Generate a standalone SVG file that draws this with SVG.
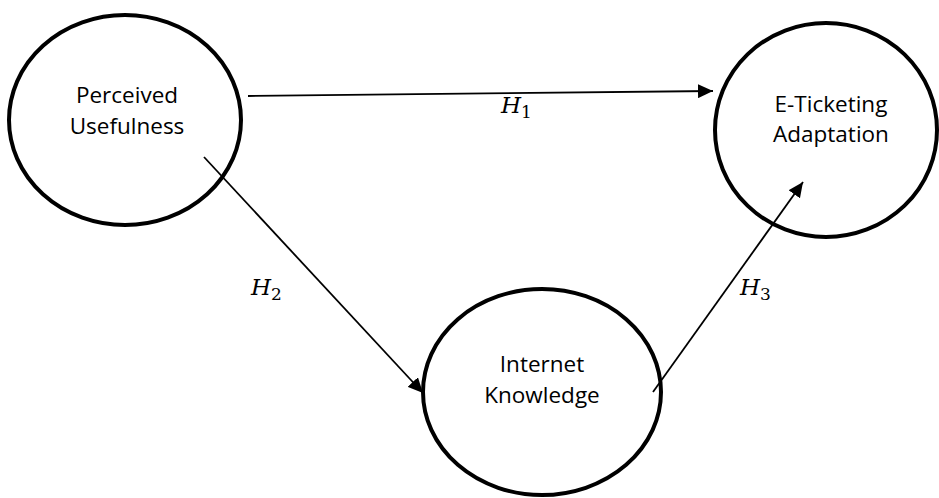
<svg xmlns="http://www.w3.org/2000/svg" width="939" height="498" viewBox="0 0 939 498">
  <style>
    .node { fill: #ffffff; stroke: #000000; stroke-width: 4; }
    .lbl { font-family: "Open Sans", "Noto Sans", sans-serif; font-size: 22.5px; fill: #000; text-anchor: middle; }
    .conn { stroke: #000; stroke-width: 1.8; fill: none; marker-end: url(#arrow); }
    .h { font-family: "DejaVu Serif", "Liberation Serif", serif; font-size: 23px; font-style: italic; fill: #000; }
    .sub { font-style: normal; font-size: 17px; }
  </style>
  <defs>
    <marker id="arrow" markerUnits="userSpaceOnUse" markerWidth="16" markerHeight="14" refX="15" refY="7" orient="auto">
      <path d="M0,0 L15,7 L0,14 Z" fill="#000"/>
    </marker>
  </defs>
  <rect width="939" height="498" fill="#ffffff"/>

  <g id="node-perceived-usefulness">
    <ellipse class="node" cx="125" cy="120" rx="116" ry="105"/>
    <text class="lbl" x="127" y="103">Perceived</text>
    <text class="lbl" x="127" y="134">Usefulness</text>
  </g>

  <g id="node-e-ticketing-adaptation">
    <ellipse class="node" cx="826" cy="130" rx="111" ry="107"/>
    <text class="lbl" x="831" y="112">E-Ticketing</text>
    <text class="lbl" x="831" y="142">Adaptation</text>
  </g>

  <g id="node-internet-knowledge">
    <ellipse class="node" cx="542" cy="392" rx="119" ry="103"/>
    <text class="lbl" x="542" y="372">Internet</text>
    <text class="lbl" x="542" y="403">Knowledge</text>
  </g>

  <g id="connectors">
    <line class="conn" x1="248" y1="96" x2="713" y2="91"/>
    <line class="conn" x1="204" y1="157" x2="423" y2="393"/>
    <line class="conn" x1="653" y1="392" x2="803" y2="182"/>
    <text class="h" x="501" y="113">H<tspan class="sub" dy="5">1</tspan></text>
    <text class="h" x="251" y="295">H<tspan class="sub" dy="5">2</tspan></text>
    <text class="h" x="740" y="295">H<tspan class="sub" dy="5">3</tspan></text>
  </g>
</svg>
